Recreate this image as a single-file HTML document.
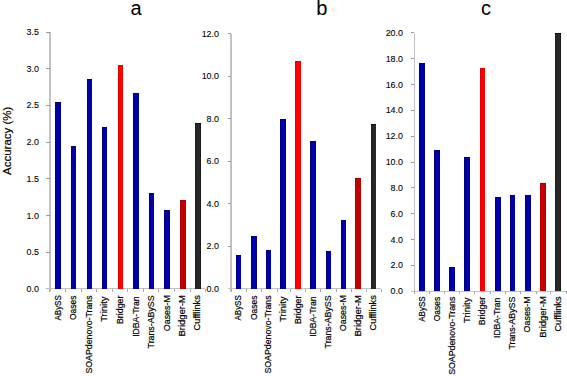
<!DOCTYPE html>
<html><head><meta charset="utf-8"><style>
html,body{margin:0;padding:0;background:#fff;}
body{width:567px;height:376px;position:relative;overflow:hidden;font-family:"Liberation Sans",sans-serif;color:#000;}
.xl,.a{-webkit-text-stroke:0.2px #000;}
.yl{-webkit-text-stroke:0.1px #000;}
.a{position:absolute;}
.ln{position:absolute;background:#C2C2C6;}
.bar{position:absolute;box-sizing:border-box;}
.yl{position:absolute;font-size:9.4px;line-height:10px;text-align:right;width:30px;white-space:nowrap;transform:scaleX(0.95);transform-origin:right center;}
.xl{position:absolute;left:0;top:0;font-size:9px;line-height:9px;white-space:nowrap;transform-origin:0 0;}
.t{position:absolute;font-size:20px;line-height:20px;}
</style></head><body>

<div class="ln" style="left:49.00px;top:32.00px;width:1.6px;height:259.80px"></div>
<div class="ln" style="left:46.30px;top:288.30px;width:3.5px;height:1px;background:#999"></div>
<div class="yl" style="left:9.20px;top:283.90px">0.0</div>
<div class="ln" style="left:46.30px;top:251.61px;width:3.5px;height:1px;background:#999"></div>
<div class="yl" style="left:9.20px;top:247.21px">0.5</div>
<div class="ln" style="left:46.30px;top:214.93px;width:3.5px;height:1px;background:#999"></div>
<div class="yl" style="left:9.20px;top:210.53px">1.0</div>
<div class="ln" style="left:46.30px;top:178.24px;width:3.5px;height:1px;background:#999"></div>
<div class="yl" style="left:9.20px;top:173.84px">1.5</div>
<div class="ln" style="left:46.30px;top:141.56px;width:3.5px;height:1px;background:#999"></div>
<div class="yl" style="left:9.20px;top:137.16px">2.0</div>
<div class="ln" style="left:46.30px;top:104.87px;width:3.5px;height:1px;background:#999"></div>
<div class="yl" style="left:9.20px;top:100.47px">2.5</div>
<div class="ln" style="left:46.30px;top:68.19px;width:3.5px;height:1px;background:#999"></div>
<div class="yl" style="left:9.20px;top:63.79px">3.0</div>
<div class="ln" style="left:46.30px;top:31.50px;width:3.5px;height:1px;background:#999"></div>
<div class="yl" style="left:9.20px;top:27.10px">3.5</div>
<div class="ln" style="left:46.80px;top:288.30px;width:158.70px;height:1px"></div>
<div class="ln" style="left:49.40px;top:288.80px;width:1px;height:3px;background:#aaa"></div>
<div class="ln" style="left:65.40px;top:288.80px;width:1px;height:3px;background:#aaa"></div>
<div class="ln" style="left:80.60px;top:288.80px;width:1px;height:3px;background:#aaa"></div>
<div class="ln" style="left:96.40px;top:288.80px;width:1px;height:3px;background:#aaa"></div>
<div class="ln" style="left:112.20px;top:288.80px;width:1px;height:3px;background:#aaa"></div>
<div class="ln" style="left:127.40px;top:288.80px;width:1px;height:3px;background:#aaa"></div>
<div class="ln" style="left:143.30px;top:288.80px;width:1px;height:3px;background:#aaa"></div>
<div class="ln" style="left:158.30px;top:288.80px;width:1px;height:3px;background:#aaa"></div>
<div class="ln" style="left:174.20px;top:288.80px;width:1px;height:3px;background:#aaa"></div>
<div class="ln" style="left:189.70px;top:288.80px;width:1px;height:3px;background:#aaa"></div>
<div class="ln" style="left:205.00px;top:288.80px;width:1px;height:3px;background:#aaa"></div>
<div class="bar" style="left:55.40px;top:101.70px;width:5.80px;height:187.10px;background:linear-gradient(to right,#00006A 0,#0000A8 1.5px,#0000B4 4.3px,#00007A 5.8px);border-top:1px solid #000070"></div>
<div class="bar" style="left:70.60px;top:145.87px;width:5.80px;height:142.93px;background:linear-gradient(to right,#00006A 0,#0000A8 1.5px,#0000B4 4.3px,#00007A 5.8px);border-top:1px solid #000070"></div>
<div class="bar" style="left:86.60px;top:79.32px;width:5.80px;height:209.48px;background:linear-gradient(to right,#00006A 0,#0000A8 1.5px,#0000B4 4.3px,#00007A 5.8px);border-top:1px solid #000070"></div>
<div class="bar" style="left:101.70px;top:127.38px;width:5.80px;height:161.42px;background:linear-gradient(to right,#00006A 0,#0000A8 1.5px,#0000B4 4.3px,#00007A 5.8px);border-top:1px solid #000070"></div>
<div class="bar" style="left:117.50px;top:65.02px;width:5.80px;height:223.78px;background:linear-gradient(to right,#D00000 0,#FF0000 1.2px,#FF0000 4.6px,#F00000 5.8px);border-top:1px solid #E00000"></div>
<div class="bar" style="left:133.00px;top:92.90px;width:5.80px;height:195.90px;background:linear-gradient(to right,#00006A 0,#0000A8 1.5px,#0000B4 4.3px,#00007A 5.8px);border-top:1px solid #000070"></div>
<div class="bar" style="left:148.50px;top:193.42px;width:5.80px;height:95.38px;background:linear-gradient(to right,#00006A 0,#0000A8 1.5px,#0000B4 4.3px,#00007A 5.8px);border-top:1px solid #000070"></div>
<div class="bar" style="left:163.90px;top:210.29px;width:5.80px;height:78.51px;background:linear-gradient(to right,#00006A 0,#0000A8 1.5px,#0000B4 4.3px,#00007A 5.8px);border-top:1px solid #000070"></div>
<div class="bar" style="left:179.80px;top:200.39px;width:5.80px;height:88.41px;background:linear-gradient(to right,#A00000 0,#C80000 1.2px,#C40000 4.6px,#B00000 5.8px);border-top:1px solid #A00000"></div>
<div class="bar" style="left:194.80px;top:122.98px;width:5.80px;height:165.82px;background:linear-gradient(to right,#141414 0,#282828 1.2px,#282828 4.6px,#141414 5.8px);border-top:1px solid #0A0A0A"></div>
<div class="xl" style="transform:translate(54.00px,320.50px) rotate(-90deg) scaleX(0.8852)">ABySS</div>
<div class="xl" style="transform:translate(69.20px,320.00px) rotate(-90deg) scaleX(0.9360)">Oases</div>
<div class="xl" style="transform:translate(85.20px,373.60px) rotate(-90deg) scaleX(0.9747)">SOAPdenovo-Trans</div>
<div class="xl" style="transform:translate(100.30px,321.80px) rotate(-90deg) scaleX(1.0500)">Trinity</div>
<div class="xl" style="transform:translate(116.10px,324.00px) rotate(-90deg) scaleX(0.9786)">Bridger</div>
<div class="xl" style="transform:translate(131.60px,336.80px) rotate(-90deg) scaleX(0.9571)">IDBA-Tran</div>
<div class="xl" style="transform:translate(147.10px,348.40px) rotate(-90deg) scaleX(0.9774)">Trans-ABySS</div>
<div class="xl" style="transform:translate(162.50px,331.20px) rotate(-90deg) scaleX(0.9886)">Oases-M</div>
<div class="xl" style="transform:translate(178.40px,336.50px) rotate(-90deg) scaleX(1.0500)">Bridger-M</div>
<div class="xl" style="transform:translate(193.40px,330.40px) rotate(-90deg) scaleX(1.0242)">Cufflinks</div>
<div class="t" style="left:130.60px;top:-2.3px">a</div>
<div class="ln" style="left:230.20px;top:33.50px;width:1.6px;height:258.30px"></div>
<div class="ln" style="left:227.50px;top:288.30px;width:3.5px;height:1px;background:#999"></div>
<div class="yl" style="left:189.30px;top:283.90px">0.0</div>
<div class="ln" style="left:227.50px;top:245.75px;width:3.5px;height:1px;background:#999"></div>
<div class="yl" style="left:189.30px;top:241.35px">2.0</div>
<div class="ln" style="left:227.50px;top:203.20px;width:3.5px;height:1px;background:#999"></div>
<div class="yl" style="left:189.30px;top:198.80px">4.0</div>
<div class="ln" style="left:227.50px;top:160.65px;width:3.5px;height:1px;background:#999"></div>
<div class="yl" style="left:189.30px;top:156.25px">6.0</div>
<div class="ln" style="left:227.50px;top:118.10px;width:3.5px;height:1px;background:#999"></div>
<div class="yl" style="left:189.30px;top:113.70px">8.0</div>
<div class="ln" style="left:227.50px;top:75.55px;width:3.5px;height:1px;background:#999"></div>
<div class="yl" style="left:189.30px;top:71.15px">10.0</div>
<div class="ln" style="left:227.50px;top:33.00px;width:3.5px;height:1px;background:#999"></div>
<div class="yl" style="left:189.30px;top:28.60px">12.0</div>
<div class="ln" style="left:228.00px;top:288.30px;width:153.20px;height:1px"></div>
<div class="ln" style="left:230.50px;top:288.80px;width:1px;height:3px;background:#aaa"></div>
<div class="ln" style="left:245.50px;top:288.80px;width:1px;height:3px;background:#aaa"></div>
<div class="ln" style="left:260.90px;top:288.80px;width:1px;height:3px;background:#aaa"></div>
<div class="ln" style="left:276.80px;top:288.80px;width:1px;height:3px;background:#aaa"></div>
<div class="ln" style="left:290.00px;top:288.80px;width:1px;height:3px;background:#aaa"></div>
<div class="ln" style="left:305.00px;top:288.80px;width:1px;height:3px;background:#aaa"></div>
<div class="ln" style="left:320.10px;top:288.80px;width:1px;height:3px;background:#aaa"></div>
<div class="ln" style="left:335.70px;top:288.80px;width:1px;height:3px;background:#aaa"></div>
<div class="ln" style="left:350.60px;top:288.80px;width:1px;height:3px;background:#aaa"></div>
<div class="ln" style="left:366.10px;top:288.80px;width:1px;height:3px;background:#aaa"></div>
<div class="ln" style="left:380.70px;top:288.80px;width:1px;height:3px;background:#aaa"></div>
<div class="bar" style="left:235.50px;top:254.55px;width:5.80px;height:34.25px;background:linear-gradient(to right,#00006A 0,#0000A8 1.5px,#0000B4 4.3px,#00007A 5.8px);border-top:1px solid #000070"></div>
<div class="bar" style="left:250.90px;top:236.46px;width:5.80px;height:52.34px;background:linear-gradient(to right,#00006A 0,#0000A8 1.5px,#0000B4 4.3px,#00007A 5.8px);border-top:1px solid #000070"></div>
<div class="bar" style="left:265.70px;top:249.87px;width:5.80px;height:38.93px;background:linear-gradient(to right,#00006A 0,#0000A8 1.5px,#0000B4 4.3px,#00007A 5.8px);border-top:1px solid #000070"></div>
<div class="bar" style="left:280.00px;top:118.60px;width:5.80px;height:170.20px;background:linear-gradient(to right,#00006A 0,#0000A8 1.5px,#0000B4 4.3px,#00007A 5.8px);border-top:1px solid #000070"></div>
<div class="bar" style="left:295.20px;top:61.16px;width:5.80px;height:227.64px;background:linear-gradient(to right,#D00000 0,#FF0000 1.2px,#FF0000 4.6px,#F00000 5.8px);border-top:1px solid #E00000"></div>
<div class="bar" style="left:310.20px;top:140.73px;width:5.80px;height:148.07px;background:linear-gradient(to right,#00006A 0,#0000A8 1.5px,#0000B4 4.3px,#00007A 5.8px);border-top:1px solid #000070"></div>
<div class="bar" style="left:325.70px;top:250.72px;width:5.80px;height:38.08px;background:linear-gradient(to right,#00006A 0,#0000A8 1.5px,#0000B4 4.3px,#00007A 5.8px);border-top:1px solid #000070"></div>
<div class="bar" style="left:340.60px;top:220.29px;width:5.80px;height:68.51px;background:linear-gradient(to right,#00006A 0,#0000A8 1.5px,#0000B4 4.3px,#00007A 5.8px);border-top:1px solid #000070"></div>
<div class="bar" style="left:355.40px;top:177.53px;width:5.80px;height:111.27px;background:linear-gradient(to right,#A00000 0,#C80000 1.2px,#C40000 4.6px,#B00000 5.8px);border-top:1px solid #A00000"></div>
<div class="bar" style="left:370.70px;top:123.92px;width:5.80px;height:164.88px;background:linear-gradient(to right,#141414 0,#282828 1.2px,#282828 4.6px,#141414 5.8px);border-top:1px solid #0A0A0A"></div>
<div class="xl" style="transform:translate(234.10px,320.50px) rotate(-90deg) scaleX(0.8852)">ABySS</div>
<div class="xl" style="transform:translate(249.50px,320.00px) rotate(-90deg) scaleX(0.9360)">Oases</div>
<div class="xl" style="transform:translate(264.30px,373.60px) rotate(-90deg) scaleX(0.9747)">SOAPdenovo-Trans</div>
<div class="xl" style="transform:translate(278.60px,321.80px) rotate(-90deg) scaleX(1.0500)">Trinity</div>
<div class="xl" style="transform:translate(293.80px,324.00px) rotate(-90deg) scaleX(0.9786)">Bridger</div>
<div class="xl" style="transform:translate(308.80px,336.80px) rotate(-90deg) scaleX(0.9571)">IDBA-Tran</div>
<div class="xl" style="transform:translate(324.30px,348.40px) rotate(-90deg) scaleX(0.9774)">Trans-ABySS</div>
<div class="xl" style="transform:translate(339.20px,331.20px) rotate(-90deg) scaleX(0.9886)">Oases-M</div>
<div class="xl" style="transform:translate(354.00px,336.50px) rotate(-90deg) scaleX(1.0500)">Bridger-M</div>
<div class="xl" style="transform:translate(369.30px,330.40px) rotate(-90deg) scaleX(1.0242)">Cufflinks</div>
<div class="t" style="left:316.20px;top:-2.3px">b</div>
<div class="ln" style="left:413.50px;top:32.80px;width:1.6px;height:261.40px"></div>
<div class="ln" style="left:410.80px;top:290.70px;width:3.5px;height:1px;background:#999"></div>
<div class="yl" style="left:373.20px;top:286.30px">0.0</div>
<div class="ln" style="left:410.80px;top:264.86px;width:3.5px;height:1px;background:#999"></div>
<div class="yl" style="left:373.20px;top:260.46px">2.0</div>
<div class="ln" style="left:410.80px;top:239.02px;width:3.5px;height:1px;background:#999"></div>
<div class="yl" style="left:373.20px;top:234.62px">4.0</div>
<div class="ln" style="left:410.80px;top:213.18px;width:3.5px;height:1px;background:#999"></div>
<div class="yl" style="left:373.20px;top:208.78px">6.0</div>
<div class="ln" style="left:410.80px;top:187.34px;width:3.5px;height:1px;background:#999"></div>
<div class="yl" style="left:373.20px;top:182.94px">8.0</div>
<div class="ln" style="left:410.80px;top:161.50px;width:3.5px;height:1px;background:#999"></div>
<div class="yl" style="left:373.20px;top:157.10px">10.0</div>
<div class="ln" style="left:410.80px;top:135.66px;width:3.5px;height:1px;background:#999"></div>
<div class="yl" style="left:373.20px;top:131.26px">12.0</div>
<div class="ln" style="left:410.80px;top:109.82px;width:3.5px;height:1px;background:#999"></div>
<div class="yl" style="left:373.20px;top:105.42px">14.0</div>
<div class="ln" style="left:410.80px;top:83.98px;width:3.5px;height:1px;background:#999"></div>
<div class="yl" style="left:373.20px;top:79.58px">16.0</div>
<div class="ln" style="left:410.80px;top:58.14px;width:3.5px;height:1px;background:#999"></div>
<div class="yl" style="left:373.20px;top:53.74px">18.0</div>
<div class="ln" style="left:410.80px;top:32.30px;width:3.5px;height:1px;background:#999"></div>
<div class="yl" style="left:373.20px;top:27.90px">20.0</div>
<div class="ln" style="left:411.30px;top:290.70px;width:154.70px;height:1px"></div>
<div class="ln" style="left:413.70px;top:291.20px;width:1px;height:3px;background:#aaa"></div>
<div class="ln" style="left:428.80px;top:291.20px;width:1px;height:3px;background:#aaa"></div>
<div class="ln" style="left:444.10px;top:291.20px;width:1px;height:3px;background:#aaa"></div>
<div class="ln" style="left:459.30px;top:291.20px;width:1px;height:3px;background:#aaa"></div>
<div class="ln" style="left:474.40px;top:291.20px;width:1px;height:3px;background:#aaa"></div>
<div class="ln" style="left:489.50px;top:291.20px;width:1px;height:3px;background:#aaa"></div>
<div class="ln" style="left:504.80px;top:291.20px;width:1px;height:3px;background:#aaa"></div>
<div class="ln" style="left:520.20px;top:291.20px;width:1px;height:3px;background:#aaa"></div>
<div class="ln" style="left:535.50px;top:291.20px;width:1px;height:3px;background:#aaa"></div>
<div class="ln" style="left:550.40px;top:291.20px;width:1px;height:3px;background:#aaa"></div>
<div class="ln" style="left:565.50px;top:291.20px;width:1px;height:3px;background:#aaa"></div>
<div class="bar" style="left:419.00px;top:62.65px;width:5.80px;height:228.55px;background:linear-gradient(to right,#00006A 0,#0000A8 1.5px,#0000B4 4.3px,#00007A 5.8px);border-top:1px solid #000070"></div>
<div class="bar" style="left:434.10px;top:150.37px;width:5.80px;height:140.83px;background:linear-gradient(to right,#00006A 0,#0000A8 1.5px,#0000B4 4.3px,#00007A 5.8px);border-top:1px solid #000070"></div>
<div class="bar" style="left:449.30px;top:266.65px;width:5.80px;height:24.55px;background:linear-gradient(to right,#00006A 0,#0000A8 1.5px,#0000B4 4.3px,#00007A 5.8px);border-top:1px solid #000070"></div>
<div class="bar" style="left:464.30px;top:156.96px;width:5.80px;height:134.24px;background:linear-gradient(to right,#00006A 0,#0000A8 1.5px,#0000B4 4.3px,#00007A 5.8px);border-top:1px solid #000070"></div>
<div class="bar" style="left:479.60px;top:68.46px;width:5.80px;height:222.74px;background:linear-gradient(to right,#D00000 0,#FF0000 1.2px,#FF0000 4.6px,#F00000 5.8px);border-top:1px solid #E00000"></div>
<div class="bar" style="left:494.80px;top:196.50px;width:5.80px;height:94.70px;background:linear-gradient(to right,#00006A 0,#0000A8 1.5px,#0000B4 4.3px,#00007A 5.8px);border-top:1px solid #000070"></div>
<div class="bar" style="left:509.70px;top:194.95px;width:5.80px;height:96.25px;background:linear-gradient(to right,#00006A 0,#0000A8 1.5px,#0000B4 4.3px,#00007A 5.8px);border-top:1px solid #000070"></div>
<div class="bar" style="left:524.80px;top:194.95px;width:5.80px;height:96.25px;background:linear-gradient(to right,#00006A 0,#0000A8 1.5px,#0000B4 4.3px,#00007A 5.8px);border-top:1px solid #000070"></div>
<div class="bar" style="left:540.00px;top:183.19px;width:5.80px;height:108.01px;background:linear-gradient(to right,#A00000 0,#C80000 1.2px,#C40000 4.6px,#B00000 5.8px);border-top:1px solid #A00000"></div>
<div class="bar" style="left:555.00px;top:32.80px;width:5.80px;height:258.40px;background:linear-gradient(to right,#141414 0,#282828 1.2px,#282828 4.6px,#141414 5.8px);border-top:1px solid #0A0A0A"></div>
<div class="xl" style="transform:translate(417.60px,321.70px) rotate(-90deg) scaleX(0.8852)">ABySS</div>
<div class="xl" style="transform:translate(432.70px,321.20px) rotate(-90deg) scaleX(0.9360)">Oases</div>
<div class="xl" style="transform:translate(447.90px,374.80px) rotate(-90deg) scaleX(0.9747)">SOAPdenovo-Trans</div>
<div class="xl" style="transform:translate(462.90px,323.00px) rotate(-90deg) scaleX(1.0500)">Trinity</div>
<div class="xl" style="transform:translate(478.20px,325.20px) rotate(-90deg) scaleX(0.9786)">Bridger</div>
<div class="xl" style="transform:translate(493.40px,338.00px) rotate(-90deg) scaleX(0.9571)">IDBA-Tran</div>
<div class="xl" style="transform:translate(508.30px,349.60px) rotate(-90deg) scaleX(0.9774)">Trans-ABySS</div>
<div class="xl" style="transform:translate(523.40px,332.40px) rotate(-90deg) scaleX(0.9886)">Oases-M</div>
<div class="xl" style="transform:translate(538.60px,337.70px) rotate(-90deg) scaleX(1.0500)">Bridger-M</div>
<div class="xl" style="transform:translate(553.60px,331.60px) rotate(-90deg) scaleX(1.0242)">Cufflinks</div>
<div class="t" style="left:481.00px;top:-2.3px">c</div>
<div class="a" style="left:0;top:0;font-size:11.5px;line-height:11px;white-space:nowrap;transform-origin:0 0;transform:translate(2px,175px) rotate(-90deg)">Accuracy (%)</div>
</body></html>
